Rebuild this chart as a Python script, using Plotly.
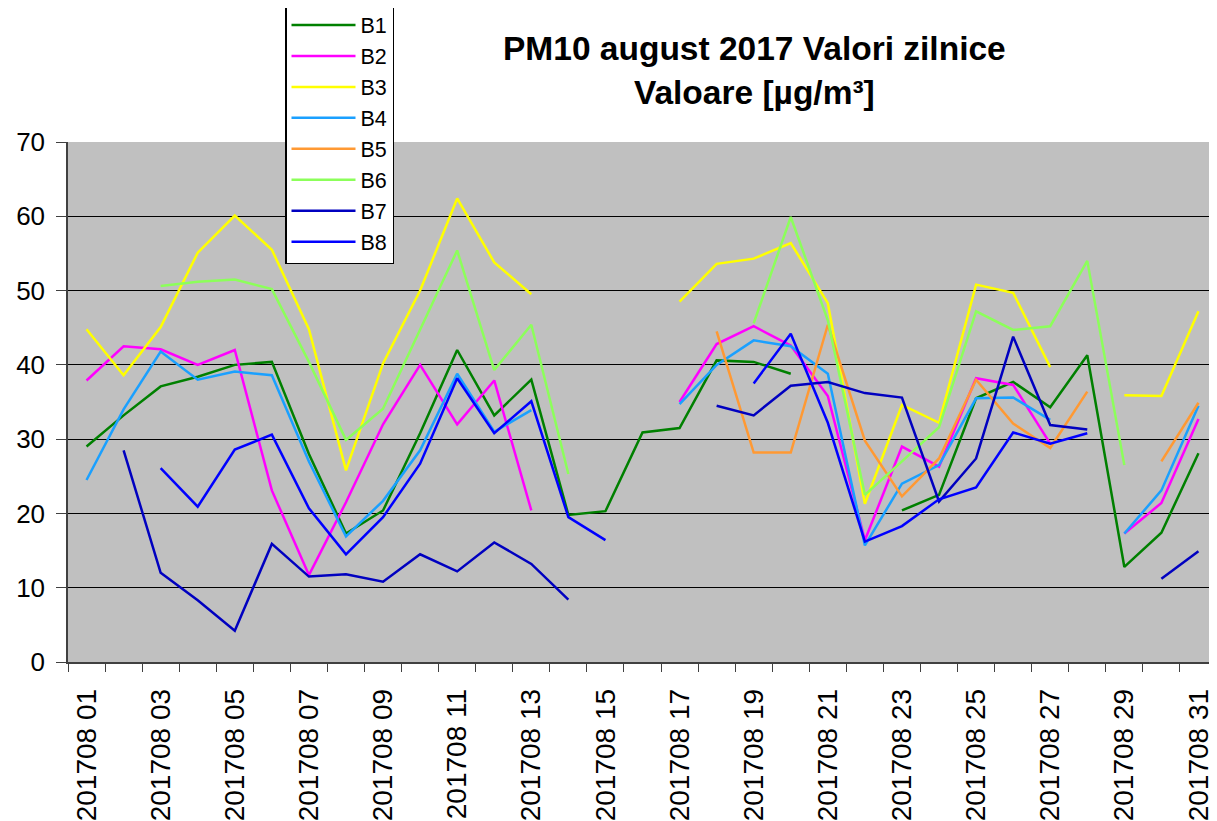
import plotly.graph_objects as go

days = list(range(1, 32))
day_labels = [f"201708 {d:02d}" for d in days]
tick_days = days[::2]
tick_labels = day_labels[::2]
y_ticks = [0, 10, 20, 30, 40, 50, 60, 70]

series_names = ["B1", "B2", "B3", "B4", "B5", "B6", "B7", "B8"]

B1 = [29.0, 33.2, 37.1, 38.4, 40.0, 40.4, 28.0, 17.3, 20.4, 30.8, 42.0, 33.2, 38.0, 19.8, 20.3, 30.9,
      31.5, 40.6, 40.4, 38.8, None, None, 20.4, 22.5, 35.5, 37.7, 34.3, 41.3, 12.8, 17.4, 28.1]
B2 = [37.9, 42.5, 42.1, 40.0, 42.0, 23.1, 11.7, 21.5, 32.0, 40.0, 32.0, 37.9, 20.4, None, None, None,
      35.0, 42.8, 45.2, 42.6, 35.8, 16.4, 29.0, 26.3, 38.2, 37.3, 29.4, None, 17.3, 21.4, 32.7]
B3 = [44.8, 38.6, 45.1, 55.1, 60.1, 55.5, 44.8, 25.8, 40.2, 50.0, 62.4, 53.8, 49.5, None, None, None,
      48.5, 53.6, 54.3, 56.4, 48.3, 21.3, 34.6, 32.2, 50.8, 49.7, 39.7, None, 35.9, 35.8, 47.2]
B4 = [24.5, 34.0, 41.8, 38.0, 39.1, 38.6, 27.0, 16.9, 21.7, 28.5, 38.8, 31.0, 33.9, None, None, None,
      34.7, 40.0, 43.3, 42.5, 38.8, 15.7, 24.0, 26.5, 35.5, 35.6, 32.6, None, 17.3, 23.1, 34.5]
B5 = [None, None, None, None, None, None, None, None, None, None, None, None, None, None, None, None,
      None, 44.5, 28.2, 28.2, 45.4, 29.8, 22.3, 27.4, 38.0, 32.1, 28.8, 36.4, None, 27.0, 34.9]
B6 = [None, None, 50.6, 51.2, 51.5, 50.2, 40.4, 29.9, 34.1, 44.8, 55.4, 39.3, 45.4, 25.3, None, None,
      None, None, 45.6, 59.9, 46.0, 22.5, 27.0, 31.6, 47.2, 44.7, 45.2, 54.0, 26.5, None, None]
B7 = [None, 28.5, 12.0, 8.3, 4.2, 15.9, 11.5, 11.8, 10.8, 14.5, 12.2, 16.1, 13.2, 8.4, None, None,
      None, 34.5, 33.2, 37.2, 37.7, 36.2, 35.6, 21.6, 27.4, 43.8, 31.9, 31.3, None, 11.2, 14.9]
B8 = [None, None, 26.1, 20.9, 28.6, 30.6, 20.7, 14.5, 19.5, 26.7, 38.2, 30.8, 35.1, 19.5, 16.4, None,
      None, None, 37.5, 44.2, 32.2, 16.2, 18.3, 21.9, 23.5, 30.9, 29.4, 30.8, None, None, None]

series_values = [B1, B2, B3, B4, B5, B6, B7, B8]
colors = ["#008000", "#FF00FF", "#FFFF00", "#1AA0FF", "#FF9933", "#8CFF5A", "#0000C0", "#0000FF"]

FONT = "Liberation Sans, Arial, sans-serif"

fig = go.Figure()
for name, vals, col in zip(series_names, series_values, colors):
    fig.add_trace(go.Scatter(x=days, y=vals, name=name, mode="lines",
                             line=dict(color=col, width=2.5), connectgaps=False))

# page body has an 8px offset; margins compensate so the plot area sits at x 68..1217, y 142..662
fig.update_layout(
    width=1217, height=821,
    margin=dict(l=60, r=8, t=134, b=167, autoexpand=False),
    paper_bgcolor="white", plot_bgcolor="#C0C0C0",
    font=dict(family=FONT, color="black"),
    showlegend=True,
    legend=dict(x=(285 - 68) / 1149, y=(662 - 3) / 520, xanchor="left", yanchor="top",
                bgcolor="white", bordercolor="black", borderwidth=1.5,
                font=dict(size=21.5, family=FONT), itemwidth=64, tracegroupgap=0,
                entrywidth=120, entrywidthmode="pixels"),
    annotations=[dict(text="<b>PM10 august 2017 Valori zilnice<br>Valoare [µg/m³]</b>",
                      xref="paper", yref="paper", x=(754 - 68) / 1149, y=(662 - 28) / 520,
                      xanchor="center", yanchor="top", showarrow=False,
                      font=dict(size=33.5, family=FONT, color="black"))],
)

fig.update_xaxes(range=[0.5, 31.5], tickmode="array", tickvals=tick_days, ticktext=tick_labels,
                 tickangle=-90, ticks="", showgrid=False, zeroline=False,
                 showline=True, linecolor="#404040", linewidth=1.5,
                 tickfont=dict(size=28, family=FONT, color="black"), ticklabelstandoff=14,
                 minor=dict(tickmode="linear", tick0=0.5, dtick=1, ticks="outside", ticklen=8,
                            tickcolor="#404040", tickwidth=1.2, showgrid=False))
fig.update_yaxes(range=[0, 70], tickmode="array", tickvals=y_ticks, ticks="outside", ticklen=10,
                 tickcolor="#404040", tickwidth=1.2, showgrid=True, gridcolor="black", gridwidth=1.3,
                 zeroline=False, showline=True, linecolor="#404040", linewidth=1.5,
                 tickfont=dict(size=26, family=FONT, color="black"), ticklabelstandoff=6)

fig.write_html("out.html")
